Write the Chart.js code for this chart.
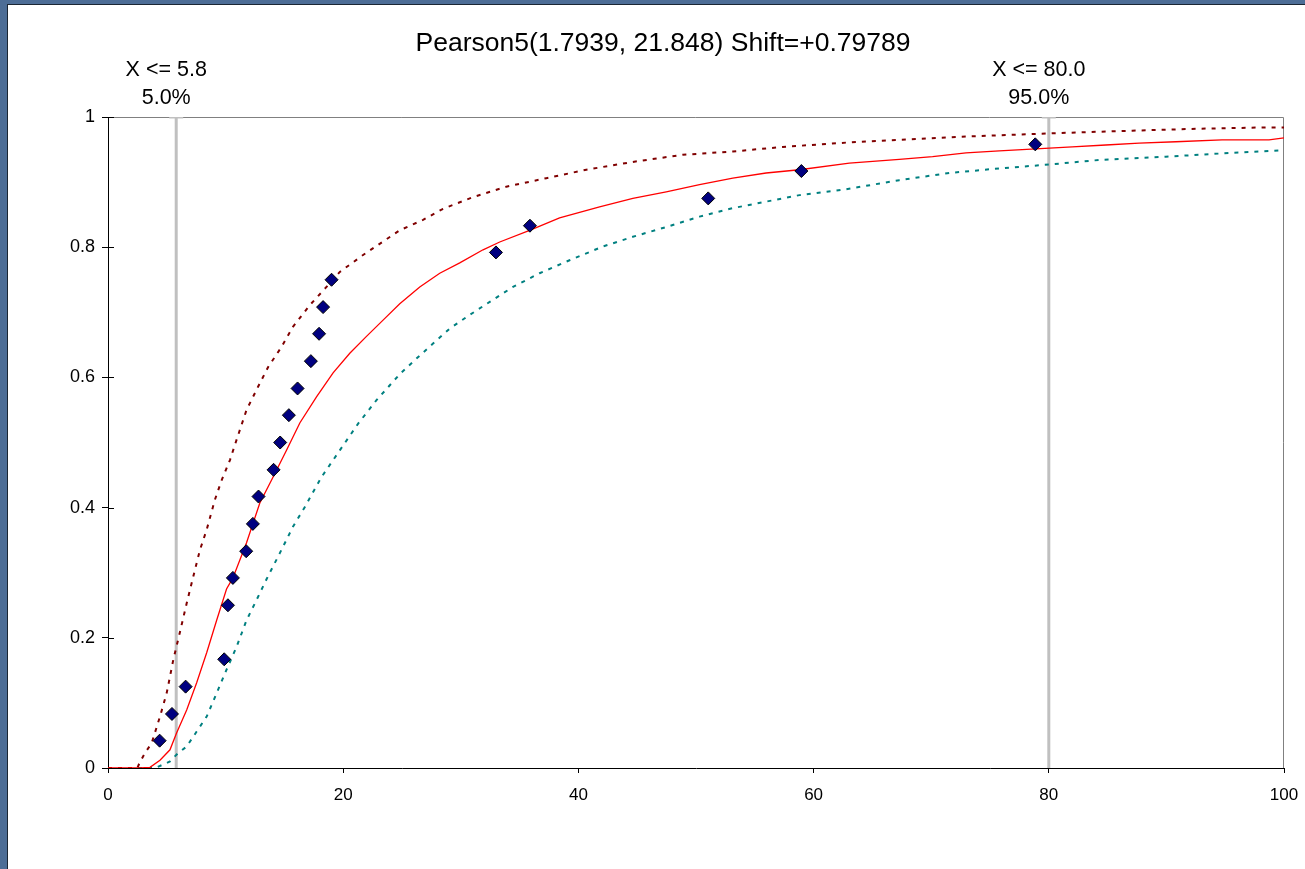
<!DOCTYPE html>
<html>
<head>
<meta charset="utf-8">
<script src="https://cdn.jsdelivr.net/npm/chart.js@4.4.0/dist/chart.umd.min.js"></script>
<style>
  html, body { margin: 0; padding: 0; }
  body { width: 1305px; height: 869px; background: #4d6d96; position: relative; overflow: hidden; }
  #frame { position: absolute; left: 7px; top: 4px; right: 0; bottom: 0; background: #fff;
           border-left: 1px solid #1b2633; border-top: 1px solid #1b2633; }
  #grafico { position: absolute; left: 0; top: 0; }
</style>
</head>
<body>
<div id="frame"></div>
<canvas id="grafico" width="1305" height="869"></canvas>
<script>
// titulo e marcadores
const titulo = 'Pearson5(1.7939, 21.848) Shift=+0.79789';
const marcadoresX = [5.8, 80];
const marcadoresTexto = ['X <= 5.8', 'X <= 80.0'];
const marcadoresProb = ['5.0%', '95.0%'];

// pontos observados (losangos)
const pontosX = [4.39, 5.44, 6.60, 9.88, 10.20, 10.62, 11.75, 12.32, 12.80, 14.08, 14.64,
  15.38, 16.12, 17.25, 17.95, 18.29, 19.01, 32.99, 35.88, 51.04, 58.96, 78.85];
const pontosY = [0.042, 0.083, 0.125, 0.167, 0.250, 0.292, 0.333, 0.375, 0.417, 0.458, 0.500,
  0.542, 0.583, 0.625, 0.667, 0.708, 0.750, 0.792, 0.833, 0.875, 0.917, 0.958];

// curva ajustada (vermelho)
const ajusteX = [0, 2.72, 3.57, 4.42, 5.27, 5.84, 6.69, 7.54, 8.39, 9.24, 10.08, 10.62, 11.78,
  12.91, 14.04, 15.18, 16.31, 17.73, 19.14, 20.56, 21.98, 23.39, 24.81, 26.51, 28.21, 29.91,
  31.89, 33.31, 35.85, 38.40, 41.80, 44.63, 47.47, 50.30, 53.13, 55.96, 58.80, 63.04, 67.29,
  70.12, 72.96, 75.79, 78.90, 81.99, 84.85, 87.68, 90.80, 94.73, 98.73, 100];
const ajusteY = [0, 0, 0.001, 0.012, 0.028, 0.054, 0.089, 0.131, 0.177, 0.227, 0.275, 0.292, 0.346,
  0.407, 0.447, 0.488, 0.530, 0.570, 0.607, 0.637, 0.663, 0.688, 0.713, 0.739, 0.760, 0.776,
  0.796, 0.808, 0.826, 0.845, 0.862, 0.875, 0.885, 0.896, 0.906, 0.914, 0.919, 0.929, 0.935,
  0.939, 0.945, 0.948, 0.951, 0.954, 0.957, 0.960, 0.962, 0.965, 0.965, 0.968];

// limite superior (vermelho escuro, pontilhado)
const superiorX = [0, 2.5, 2.66, 3.14, 3.71, 4.42, 4.99, 5.55, 6.12, 6.69, 7.25, 7.82, 8.39, 9.09,
  9.66, 10.37, 10.93, 11.78, 12.77, 13.62, 14.76, 15.74, 17.16, 18.58, 19.71, 21.69, 24.81,
  26.79, 28.49, 31.04, 33.87, 37.27, 40.67, 44.63, 48.88, 53.13, 57.37, 63.04, 67.29, 72.96,
  80.29, 87.09, 92.78, 98.44, 100];
const superiorY = [0, 0, 0.007, 0.023, 0.038, 0.079, 0.115, 0.166, 0.209, 0.253, 0.294, 0.335,
  0.366, 0.412, 0.442, 0.473, 0.504, 0.550, 0.586, 0.616, 0.647, 0.678, 0.711, 0.739, 0.762,
  0.788, 0.826, 0.842, 0.859, 0.877, 0.893, 0.906, 0.919, 0.931, 0.942, 0.947, 0.954, 0.961,
  0.965, 0.970, 0.975, 0.979, 0.982, 0.984, 0.984];

// limite inferior (verde-azulado, pontilhado)
const inferiorX = [0, 3.9, 4.14, 5.27, 5.97, 6.69, 7.54, 8.39, 9.24, 10.08, 10.93, 11.78, 12.63,
  13.48, 14.61, 15.74, 16.74, 18.16, 19.71, 21.27, 22.83, 24.81, 26.23, 27.64, 29.06, 30.76,
  32.46, 34.44, 36.70, 39.25, 42.08, 44.63, 47.47, 50.30, 53.13, 55.96, 58.80, 62.76, 67.29,
  71.54, 75.79, 80.03, 84.28, 89.95, 95.61, 100];
const inferiorY = [0, 0, 0.001, 0.010, 0.023, 0.033, 0.056, 0.079, 0.115, 0.151, 0.186, 0.227,
  0.258, 0.290, 0.330, 0.371, 0.401, 0.447, 0.488, 0.529, 0.565, 0.605, 0.629, 0.652, 0.675,
  0.696, 0.716, 0.739, 0.760, 0.780, 0.801, 0.816, 0.831, 0.847, 0.860, 0.870, 0.880, 0.889,
  0.903, 0.914, 0.921, 0.927, 0.934, 0.939, 0.945, 0.949];

const eixoXTicks = [0, 20, 40, 60, 80, 100];
const eixoYTicks = [0, 0.2, 0.4, 0.6, 0.8, 1];

const fonte = '"Liberation Sans", Arial, sans-serif';
const juntar = (xs, ys) => xs.map((x, i) => ({ x: x, y: ys[i] }));

// Linhas verticais dos percentis
const linhasMarcadores = marcadoresX.map(m => ({
  data: [{ x: m, y: 0 }, { x: m, y: 1 }],
  showLine: true,
  borderColor: '#c0c0c0',
  borderWidth: 3,
  pointRadius: [0, 7],
  pointStyle: 'line',
  pointBorderColor: '#c0c0c0',
  pointBorderWidth: 3,
  order: 10
}));

// Desenha titulo, textos dos marcadores, moldura e ticks internos
const extras = {
  id: 'extras',
  beforeDatasetsDraw(chart) {
    const { ctx, chartArea: a, scales } = chart;
    ctx.save();
    ctx.strokeStyle = '#808080';
    ctx.lineWidth = 1;
    ctx.beginPath();
    ctx.moveTo(a.left, a.top + 0.5);
    ctx.lineTo(a.right - 0.5, a.top + 0.5);
    ctx.lineTo(a.right - 0.5, a.bottom);
    ctx.stroke();
    // ticks do eixo y para dentro
    ctx.strokeStyle = '#000';
    eixoYTicks.forEach(v => {
      const y = Math.round(scales.y.getPixelForValue(v)) + 0.5;
      ctx.beginPath();
      ctx.moveTo(a.left, y);
      ctx.lineTo(a.left + 6, y);
      ctx.stroke();
    });
    ctx.restore();
  },
  afterDraw(chart) {
    const { ctx, scales } = chart;
    ctx.save();
    ctx.fillStyle = '#000';
    ctx.textAlign = 'center';
    ctx.textBaseline = 'middle';
    ctx.font = '26.5px ' + fonte;
    ctx.fillText(titulo, 663, 44);
    ctx.font = '21.5px ' + fonte;
    marcadoresX.forEach((m, i) => {
      const x = scales.x.getPixelForValue(m) - 10;
      ctx.fillText(marcadoresTexto[i], x, 70);
      ctx.fillText(marcadoresProb[i], x, 98);
    });
    ctx.restore();
  }
};

new Chart(document.getElementById('grafico'), {
  type: 'scatter',
  data: {
    datasets: [
      {
        label: 'Observados',
        data: juntar(pontosX, pontosY),
        pointStyle: 'rectRot',
        pointRadius: 6.5,
        pointBackgroundColor: '#000080',
        pointBorderColor: '#000000',
        pointBorderWidth: 1,
        order: 0
      },
      {
        label: 'Ajuste',
        data: juntar(ajusteX, ajusteY),
        showLine: true,
        borderColor: '#ff0000',
        borderWidth: 1.3,
        pointRadius: 0,
        order: 1
      },
      {
        label: 'Superior',
        data: juntar(superiorX, superiorY),
        showLine: true,
        borderColor: '#800000',
        borderWidth: 2,
        borderDash: [4, 6],
        pointRadius: 0,
        order: 2
      },
      {
        label: 'Inferior',
        data: juntar(inferiorX, inferiorY),
        showLine: true,
        borderColor: '#008080',
        borderWidth: 2,
        borderDash: [4, 6],
        pointRadius: 0,
        order: 3
      },
      ...linhasMarcadores
    ]
  },
  options: {
    responsive: false,
    animation: false,
    layout: { padding: { left: 68, top: 117, right: 21, bottom: 61 } },
    plugins: { legend: { display: false }, tooltip: { enabled: false } },
    scales: {
      x: {
        type: 'linear', min: 0, max: 100,
        afterFit: s => { s.height = 40; s.paddingLeft = 0; s.paddingRight = 0; },
        afterBuildTicks: s => { s.ticks = eixoXTicks.map(v => ({ value: v })); },
        border: { color: '#000', width: 1 },
        grid: { drawOnChartArea: false, tickLength: 5, color: '#000' },
        ticks: { color: '#000', font: { family: fonte, size: 17 }, padding: 12, maxRotation: 0,
                 callback: v => String(v) }
      },
      y: {
        type: 'linear', min: 0, max: 1,
        afterFit: s => { s.width = 40; s.paddingTop = 0; s.paddingBottom = 0; },
        afterBuildTicks: s => { s.ticks = eixoYTicks.map(v => ({ value: v })); },
        border: { color: '#000', width: 1 },
        grid: { drawOnChartArea: false, tickLength: 6, color: '#000' },
        ticks: { color: '#000', font: { family: fonte, size: 18 }, padding: 7,
                 callback: v => String(v) }
      }
    }
  },
  plugins: [extras]
});
</script>
</body>
</html>
